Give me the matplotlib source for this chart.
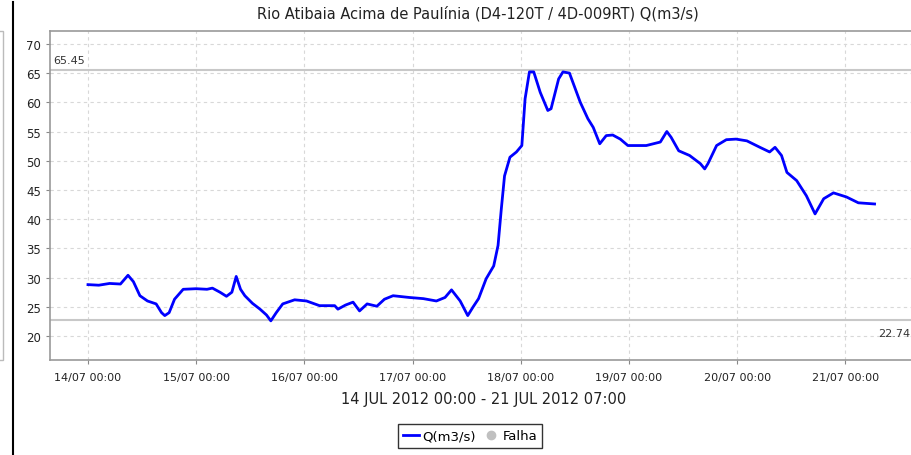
import matplotlib
matplotlib.use("Agg")
import matplotlib.pyplot as plt
from matplotlib.lines import Line2D
from matplotlib.patches import Rectangle

# dias desde 14/07 00:00 e vazao
dias = [0.00, 0.10, 0.20, 0.30, 0.37, 0.42, 0.48, 0.55, 0.63, 0.68, 0.71, 0.75, 0.80, 0.88,
        1.00, 1.10, 1.15, 1.22, 1.28, 1.33, 1.37, 1.41, 1.45, 1.52, 1.59, 1.65, 1.69, 1.74,
        1.80, 1.91, 2.02, 2.14, 2.28, 2.31, 2.38, 2.45, 2.51, 2.58, 2.67, 2.74, 2.82, 2.97,
        3.10, 3.22, 3.30, 3.36, 3.44, 3.51, 3.56, 3.61, 3.68, 3.75, 3.79, 3.82, 3.85, 3.90,
        3.96, 4.01, 4.04, 4.08, 4.12, 4.18, 4.25, 4.28, 4.35, 4.39, 4.45, 4.55, 4.62, 4.67,
        4.73, 4.79, 4.85, 4.92, 4.99, 5.16, 5.29, 5.35, 5.39, 5.46, 5.56, 5.66, 5.70, 5.73,
        5.81, 5.90, 5.99, 6.09, 6.21, 6.30, 6.35, 6.41, 6.46, 6.55, 6.64, 6.72, 6.80, 6.89,
        7.01, 7.12, 7.27]
vazao = [28.8, 28.7, 29.0, 28.9, 30.4, 29.3, 26.9, 26.0, 25.5, 24.0, 23.5, 24.0, 26.3, 28.0,
         28.1, 28.0, 28.2, 27.5, 26.8, 27.5, 30.2, 28.0, 26.9, 25.6, 24.6, 23.6, 22.6, 24.0,
         25.5, 26.2, 26.0, 25.2, 25.2, 24.6, 25.3, 25.8, 24.3, 25.5, 25.1, 26.3, 26.9, 26.6,
         26.4, 26.0, 26.6, 27.9, 26.0, 23.5, 25.0, 26.4, 29.8, 32.0, 35.5, 41.7, 47.4, 50.6,
         51.5, 52.6, 60.6, 65.2, 65.2, 61.7, 58.6, 58.9, 64.0, 65.2, 65.0, 60.0, 57.2, 55.7,
         52.9, 54.3, 54.4, 53.7, 52.6, 52.6, 53.2, 55.0, 54.0, 51.7, 50.9, 49.5, 48.6, 49.5,
         52.6, 53.6, 53.7, 53.4, 52.3, 51.5, 52.3, 50.9, 48.0, 46.6, 44.0, 40.9, 43.5, 44.5,
         43.8, 42.8, 42.6]

maximo = 65.45
minimo = 22.74

pos_ticks = [0, 1, 2, 3, 4, 5, 6, 7]
rotulos_x = ["14/07 00:00", "15/07 00:00", "16/07 00:00", "17/07 00:00",
             "18/07 00:00", "19/07 00:00", "20/07 00:00", "21/07 00:00"]
ticks_y = [20, 25, 30, 35, 40, 45, 50, 55, 60, 65, 70]

titulo = "Rio Atibaia Acima de Paulínia (D4-120T / 4D-009RT) Q(m3/s)"
periodo = "14 JUL 2012 00:00 - 21 JUL 2012 07:00"


def main():
    plt.rcParams['font.family'] = ['DejaVu Sans']
    fig = plt.figure(figsize=(9.12, 4.56), dpi=100)
    ax = fig.add_axes([50/912, 1-361/456, 1-50/912, 329/456])

    # linhas de maximo e minimo
    ax.axhline(maximo, color='#c8c8c8', lw=1.5, zorder=1)
    ax.axhline(minimo, color='#c8c8c8', lw=1.5, zorder=1)
    ax.text(0.004, maximo + 0.9, "%.2f" % maximo, transform=ax.get_yaxis_transform(),
            ha='left', va='bottom', fontsize=8, color='#333333')
    ax.text(0.998, minimo - 1.4, "%.2f" % minimo, transform=ax.get_yaxis_transform(),
            ha='right', va='top', fontsize=8, color='#333333')

    ax.plot(dias, vazao, color='#0000ff', lw=2, zorder=3)

    ax.set_xlim(-0.351, 7.616)
    ax.set_ylim(15.9, 72.2)
    ax.set_xticks(pos_ticks)
    ax.set_xticklabels(rotulos_x)
    ax.set_yticks(ticks_y)
    ax.tick_params(labelsize=8.5, colors='#888888', labelcolor='#222222', length=3)
    ax.tick_params(axis='x', pad=6, labelsize=8)
    ax.grid(True, color='#d8d8d8', ls=(0, (3, 3)), lw=0.8)
    ax.set_axisbelow(True)
    for lado in ['left', 'bottom', 'top']:
        ax.spines[lado].set_color('#999999')
        ax.spines[lado].set_linewidth(1.2)
    ax.spines['right'].set_visible(False)

    fig.text(478/912, 1-14/456, titulo, ha='center', va='center', fontsize=10.5, color='#222222')
    fig.text(484/912, 1-400/456, periodo, ha='center', va='center', fontsize=10.5, color='#222222')

    # legenda
    itens = [Line2D([], [], color='#0000ff', lw=2),
             Line2D([], [], color='#c0c0c0', marker='o', ls='none', markersize=6)]
    leg = fig.legend(itens, ["Q(m3/s)", "Falha"], loc='center', bbox_to_anchor=(470/912, 1-437/456),
                     ncol=2, fontsize=9.5, frameon=True, fancybox=False, handlelength=1.2,
                     handletextpad=0.3, columnspacing=0.5, borderpad=0.4, borderaxespad=0)
    leg.get_frame().set_edgecolor('black')
    leg.get_frame().set_linewidth(1)

    # restos do painel vizinho a esquerda
    fig.add_artist(Line2D([13.5/912, 13.5/912], [0, 1-3/456], color='black', lw=1.5))
    fig.add_artist(Rectangle((-0.01, 1-361/456), 0.0135, 329/456, fill=False,
                             edgecolor='#bbbbbb', lw=1))

    plt.savefig("out.png", dpi=100)
    plt.close()


if __name__ == '__main__': main()
